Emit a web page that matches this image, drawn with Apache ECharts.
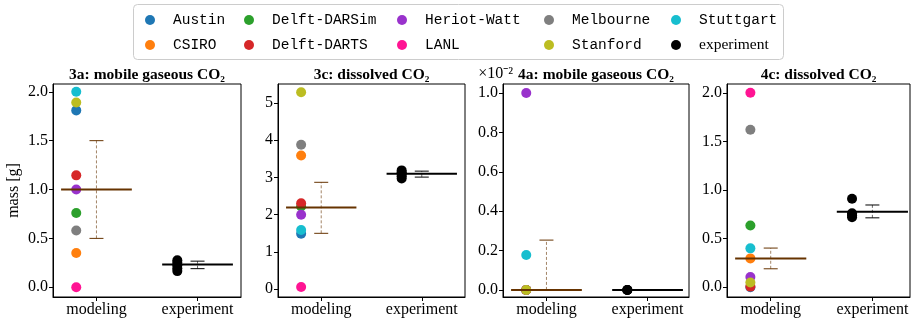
<!DOCTYPE html>
<html>
<head>
<meta charset="utf-8">
<script src="https://cdn.jsdelivr.net/npm/echarts@6/dist/echarts.min.js"></script>
<style>
  html, body { margin: 0; padding: 0; background: #fff; }
  #chart { width: 911px; height: 321px; }
</style>
</head>
<body>
<div id="chart"></div>
<script>
// groups, in legend order
const models = ['Austin', 'CSIRO', 'Delft-DARSim', 'Delft-DARTS', 'Heriot-Watt', 'LANL', 'Melbourne', 'Stanford', 'Stuttgart']
const modelColors = ['#1f77b4', '#ff7f0e', '#2ca02c', '#d62728', '#9932cc', '#ff1493', '#7f7f7f', '#bcbd22', '#17becf']
const panelTitles = ['3a: mobile gaseous CO₂', '3c: dissolved CO₂', '4a: mobile gaseous CO₂', '4c: dissolved CO₂']
const xLabels = ['modeling', 'experiment']

// modeling values, same order as models (4a is in units of 1e-2 g)
const mass3a = [1.81, 0.35, 0.76, 1.145, 1.0, 0.0, 0.58, 1.89, 2.0]
const mass3c = [1.49, 3.59, 2.22, 2.31, 2.0, 0.06, 3.88, 5.29, 1.59]
const mass4a = [0.0, 0.0, 0.0, 0.0, 1.0, 0.0, 0.0, 0.0, 0.177]
const mass4c = [0.0, 0.297, 0.635, 0.007, 0.106, 2.0, 1.62, 0.05, 0.40]

// experiment runs
const exp3a = [0.165, 0.195, 0.225, 0.25, 0.275]
const exp3c = [2.97, 3.03, 3.09, 3.14, 3.19]
const exp4a = [0.0, 0.0, 0.0]
const exp4c = [0.72, 0.74, 0.76, 0.91]

// horizontal centre line [modeling, experiment]
const centre3a = [1.0, 0.233]
const centre3c = [2.195, 3.10]
const centre4a = [0.0, 0.0]
const centre4c = [0.297, 0.776]

// error bar ranges [low, high] for modeling and experiment
const range3a = [[0.5, 1.5], [0.19, 0.267]]
const range3c = [[1.5, 2.87], [3.01, 3.17]]
const range4a = [[0.0, 0.253], [0.0, 0.0]]
const range4c = [[0.19, 0.403], [0.714, 0.846]]

// y tick labels
const yTicks3a = [0, 0.5, 1.0, 1.5, 2.0]
const yTicks3c = [0, 1, 2, 3, 4, 5]
const yTicks4a = [0, 0.2, 0.4, 0.6, 0.8, 1.0]
const yTicks4c = [0, 0.5, 1.0, 1.5, 2.0]

const panels = [
  { mass: mass3a, exp: exp3a, centre: centre3a, range: range3a, ticks: yTicks3a, ymin: -0.1, ymax: 2.08, digits: 1 },
  { mass: mass3c, exp: exp3c, centre: centre3c, range: range3c, ticks: yTicks3c, ymin: -0.21, ymax: 5.51, digits: 0 },
  { mass: mass4a, exp: exp4a, centre: centre4a, range: range4a, ticks: yTicks4a, ymin: -0.036, ymax: 1.046, digits: 1 },
  { mass: mass4c, exp: exp4c, centre: centre4c, range: range4c, ticks: yTicks4c, ymin: -0.1, ymax: 2.09, digits: 1 }
]

// layout
const boxes = [
  { left: 53, width: 188, xmax: 1.43 },
  { left: 278, width: 187, xmax: 1.43 },
  { left: 503, width: 186, xmax: 1.41 },
  { left: 727, width: 183, xmax: 1.37 }
]
const gridTop = 84
const gridHeight = 213
const dotShift = -0.2
const halfLine = 0.35
const serif = 'Liberation Serif'
const mono = 'Liberation Mono'
const brown = '#663300'

const chart = echarts.init(document.getElementById('chart'))

const grid = boxes.map(b => ({
  left: b.left, top: gridTop, width: b.width, height: gridHeight,
  show: true, borderColor: '#000', borderWidth: 1, backgroundColor: 'transparent',
  outerBoundsMode: 'none'
}))

const xAxis = boxes.map((b, i) => ({
  type: 'value', gridIndex: i, min: -0.43, max: b.xmax,
  axisLine: { show: true, onZero: false, lineStyle: { color: '#000', width: 1 } },
  axisTick: { show: true, length: 4, customValues: [0, 1], lineStyle: { color: '#000' } },
  axisLabel: {
    customValues: [0, 1], margin: 5, color: '#000', fontFamily: serif, fontSize: 16,
    formatter: v => xLabels[Math.round(v)]
  },
  splitLine: { show: false }
}))

const yAxis = panels.map((p, i) => ({
  type: 'value', gridIndex: i, min: p.ymin, max: p.ymax,
  name: i === 0 ? 'mass [g]' : '',
  nameLocation: 'middle', nameGap: 31,
  nameTextStyle: { fontFamily: serif, fontSize: 16, color: '#000' },
  axisLine: { show: true, onZero: false, lineStyle: { color: '#000', width: 1 } },
  axisTick: { show: true, length: 4, customValues: p.ticks, lineStyle: { color: '#000' } },
  axisLabel: {
    customValues: p.ticks, margin: 5, color: '#000', fontFamily: serif, fontSize: 16,
    formatter: v => v.toFixed(p.digits)
  },
  splitLine: { show: false }
}))

function errorBar(params, api) {
  const x = api.value(0)
  const lo = api.coord([x, api.value(1)])
  const hi = api.coord([x, api.value(2)])
  const col = api.value(3) === 0 ? brown : '#000'
  const cap = 7
  return {
    type: 'group',
    children: [
      { type: 'line', shape: { x1: lo[0], y1: lo[1], x2: hi[0], y2: hi[1] },
        style: { stroke: col, lineWidth: 1, lineDash: [3, 2], opacity: 0.6 } },
      { type: 'line', shape: { x1: lo[0] - cap, y1: lo[1], x2: lo[0] + cap, y2: lo[1] },
        style: { stroke: col, lineWidth: 1 } },
      { type: 'line', shape: { x1: hi[0] - cap, y1: hi[1], x2: hi[0] + cap, y2: hi[1] },
        style: { stroke: col, lineWidth: 1 } }
    ]
  }
}

const series = []
panels.forEach((p, i) => {
  models.forEach((m, k) => {
    series.push({
      name: m, type: 'scatter', xAxisIndex: i, yAxisIndex: i, z: 2,
      symbolSize: 10, itemStyle: { color: modelColors[k], opacity: 1 },
      data: [[dotShift, p.mass[k]]]
    })
  })
  series.push({
    name: 'experiment', type: 'scatter', xAxisIndex: i, yAxisIndex: i, z: 2,
    symbolSize: 10, itemStyle: { color: '#000', opacity: 1 },
    data: p.exp.map(v => [1 + dotShift, v])
  })
  p.centre.forEach((c, j) => {
    series.push({
      name: 'centre', type: 'line', xAxisIndex: i, yAxisIndex: i, z: 3,
      symbol: 'none', silent: true,
      lineStyle: { color: j === 0 ? brown : '#000', width: 2 },
      data: [[j - halfLine, c], [j + halfLine, c]]
    })
  })
  series.push({
    name: 'range', type: 'custom', xAxisIndex: i, yAxisIndex: i, z: 4,
    silent: true, renderItem: errorBar,
    encode: { x: 0, y: [1, 2] },
    data: p.range.map((r, j) => [j, r[0], r[1], j])
  })
})

// legend: 5 columns x 2 rows, filled column by column
const legendNames = models.concat(['experiment'])
const legendCols = [150, 249, 402, 549, 676] // dot centres
const legendRows = [20, 45]
const legend = legendNames.map((name, i) => ({
  data: [name],
  left: legendCols[Math.floor(i / 2)] - 5,
  top: legendRows[i % 2] - 8,
  padding: 0, itemWidth: 36, itemHeight: 10, icon: 'circle',
  textStyle: {
    fontFamily: name === 'experiment' ? serif : mono,
    fontSize: name === 'experiment' ? 15.5 : 14.5,
    color: '#000', lineHeight: 16
  }
}))

const graphic = [
  { type: 'rect', z: -1, shape: { x: 133.5, y: 4.5, width: 650, height: 55, r: 4 },
    style: { fill: '#fff', stroke: '#cccccc', lineWidth: 1 } },
  { type: 'text', x: 513, y: 74,
    style: { text: '×10⁻²', align: 'right', verticalAlign: 'middle',
      fontFamily: serif, fontSize: 16, fill: '#000' } }
].concat(panelTitles.map((t, i) => ({
  type: 'text', x: boxes[i].left + boxes[i].width / 2, y: 75,
  style: { text: t, align: 'center', verticalAlign: 'middle',
    fontFamily: serif, fontWeight: 'bold', fontSize: 15.5, fill: '#000' }
})))

chart.setOption({
  animation: false,
  grid: grid,
  xAxis: xAxis,
  yAxis: yAxis,
  legend: legend,
  graphic: graphic,
  series: series
})
</script>
</body>
</html>
